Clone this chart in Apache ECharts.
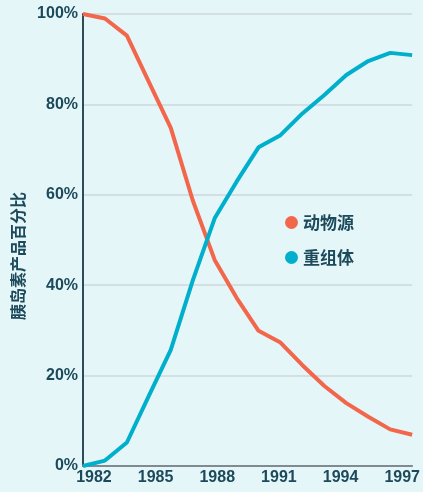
<!DOCTYPE html>
<html>
<head>
<meta charset="utf-8">
<script src="https://cdn.jsdelivr.net/npm/echarts@6/dist/echarts.min.js"></script>
<style>
html,body{margin:0;padding:0;background:#e5f6f9;}
#c{width:423px;height:492px;}
</style>
</head>
<body>
<div id="c"></div>
<script>
const years = [1982,1983,1984,1985,1986,1987,1988,1989,1990,1991,1992,1993,1994,1995,1996,1997];
const animalSource = [100,99,95.2,85,74.8,58.8,45.6,37.2,29.9,27.3,22.3,17.7,13.9,10.9,8.1,6.9];
const recombinant = [0,1.2,5.2,15.5,25.7,41,54.8,62.9,70.5,73.2,78,82.1,86.5,89.6,91.4,90.9];
const xTickLabels = ['1982','1985','1988','1991','1994','1997'];
const seriesNames = ['动物源','重组体'];
const yAxisName = '胰岛素产品百分比';

const textColor = '#1d4a5b';
const latin = '"Liberation Sans", Arial, sans-serif';
const cjk = '"Noto Sans CJK SC", sans-serif';

const chart = echarts.init(document.getElementById('c'));
chart.setOption({
  backgroundColor: '#e5f6f9',
  animation: false,
  grid: {left: 83, right: 9, top: 14, bottom: 26, containLabel: false},
  legend: {
    orient: 'vertical', left: 280, top: 209,
    icon: 'circle', itemWidth: 13, itemHeight: 13, itemGap: 18,
    textStyle: {color: textColor, fontSize: 17, fontWeight: 'bold', fontFamily: cjk},
    data: seriesNames
  },
  xAxis: [{
    type: 'value', min: years[0], max: years[years.length-1],
    axisLine: {show: true, onZero: false, lineStyle: {color: '#7f8b90', width: 2}},
    axisTick: {show: false}, axisLabel: {show: false}, splitLine: {show: false}
  }, {
    type: 'value', position: 'bottom', min: -11/62, max: 320/62,
    axisLine: {show: false, onZero: false}, axisTick: {show: false}, splitLine: {show: false},
    axisLabel: {
      show: true, margin: 4, color: textColor, fontSize: 16, fontWeight: 'bold', fontFamily: latin,
      showMinLabel: false, showMaxLabel: false,
      formatter: v => (Math.abs(v - Math.round(v)) < 1e-6 && xTickLabels[Math.round(v)]) ? xTickLabels[Math.round(v)] : ''
    }
  }],
  yAxis: {
    type: 'value', min: 0, max: 100, interval: 20,
    name: yAxisName, nameLocation: 'middle', nameGap: 54,
    nameTextStyle: {color: textColor, fontSize: 16, fontWeight: 'bold', fontFamily: cjk, padding: [0, 32, 0, 0]},
    axisLine: {show: true, onZero: false, lineStyle: {color: '#2b4c58', width: 2}},
    axisTick: {show: false},
    axisLabel: {margin: 5, color: textColor, fontSize: 16, fontWeight: 'bold', fontFamily: latin, formatter: '{value}%'},
    splitLine: {show: true, lineStyle: {color: '#cbd7db', width: 1.5}}
  },
  series: [{
    name: seriesNames[0], type: 'line', xAxisIndex: 0,
    data: years.map((y, i) => [y, animalSource[i]]),
    showSymbol: false, symbol: 'none', color: '#f2674b',
    lineStyle: {width: 4, color: '#f2674b'}, z: 3
  }, {
    name: seriesNames[1], type: 'line', xAxisIndex: 0,
    data: years.map((y, i) => [y, recombinant[i]]),
    showSymbol: false, symbol: 'none', color: '#00afcc',
    lineStyle: {width: 4, color: '#00afcc'}, z: 4
  }]
});
</script>
</body>
</html>
